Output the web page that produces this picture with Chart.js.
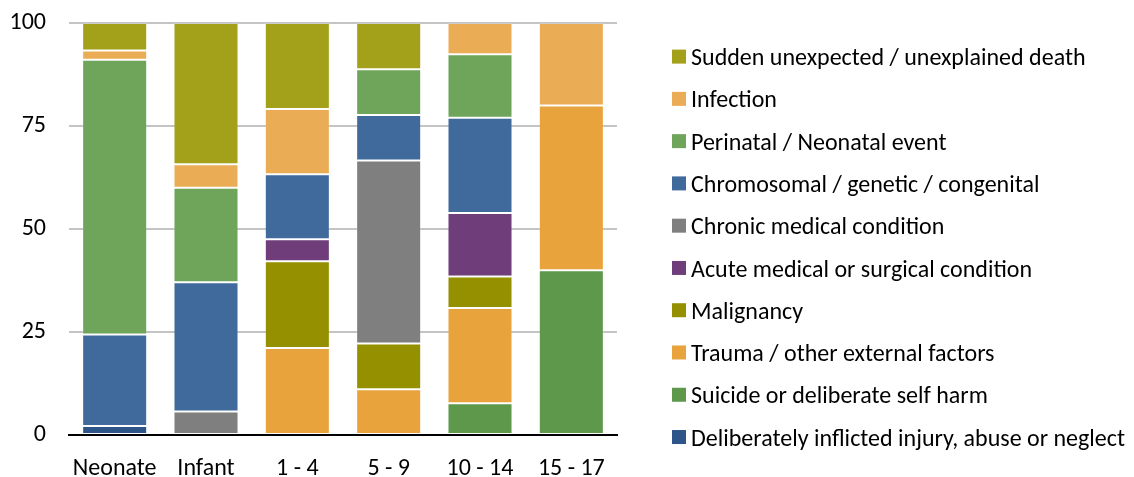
<!DOCTYPE html>
<html><head><meta charset="utf-8">
<script src="https://cdn.jsdelivr.net/npm/chart.js@4"></script>
<style>html,body{margin:0;padding:0;background:#fff;overflow:hidden}#wrap{width:1134px;height:477px;position:relative}</style>
</head><body><div id="wrap"><canvas id="c" width="1134" height="477"></canvas></div>
<script>
const categories = ['Neonate', 'Infant', '1 - 4', '5 - 9', '10 - 14', '15 - 17'];
const yTicks = [0, 25, 50, 75, 100];

// percentages, stacked bottom to top
const deliberate   = [2.2, 0, 0, 0, 0, 0];
const suicide      = [0, 0, 0, 0, 7.7, 40];
const trauma       = [0, 0, 21.1, 11.1, 23.1, 40];
const malignancy   = [0, 0, 21.1, 11.1, 7.7, 0];
const acute        = [0, 0, 5.3, 0, 15.4, 0];
const chronic      = [0, 5.7, 0, 44.4, 0, 0];
const chromosomal  = [22.2, 31.4, 15.8, 11.1, 23.1, 0];
const perinatal    = [66.7, 22.9, 0, 11.1, 15.4, 0];
const infection    = [2.2, 5.7, 15.8, 0, 7.6, 20];
const sudden       = [6.7, 34.3, 20.9, 11.2, 0, 0];

const seriesLabels = [
  'Deliberately inflicted injury, abuse or neglect',
  'Suicide or deliberate self harm',
  'Trauma / other external factors',
  'Malignancy',
  'Acute medical or surgical condition',
  'Chronic medical condition',
  'Chromosomal / genetic / congenital',
  'Perinatal / Neonatal event',
  'Infection',
  'Sudden unexpected / unexplained death'
];
const seriesData = [deliberate, suicide, trauma, malignancy, acute, chronic, chromosomal, perinatal, infection, sudden];
const seriesColors = ['#2E5589', '#5E984A', '#E8A33D', '#949000', '#6F3D7A', '#7F7F7F', '#416A9C', '#6FA55B', '#EBAC56', '#A3A019'];

const FAMILY = 'Carlito, Lato, "Liberation Sans", sans-serif';
const mctx = document.createElement('canvas').getContext('2d');
mctx.font = '24px ' + FAMILY;
const wLong = mctx.measureText(seriesLabels[0]).width;
const FS = Math.min(24, 24 * 442 / wLong);

const legendPlugin = {
  id: 'sideLegend',
  afterDraw(chart) {
    const ctx = chart.ctx;
    const ds = chart.data.datasets;
    const n = ds.length;
    ctx.save();
    ctx.font = FS + 'px ' + FAMILY;
    ctx.textAlign = 'left';
    ctx.textBaseline = 'alphabetic';
    for (let i = 0; i < n; i++) {
      const d = ds[n - 1 - i];
      const cy = 56.6 + 42.27 * i;
      ctx.fillStyle = d.backgroundColor;
      ctx.fillRect(672, cy - 7, 14, 14);
      ctx.fillStyle = '#000';
      ctx.fillText(d.label, 691, cy + 0.358 * FS);
    }
    ctx.restore();
  }
};

new Chart(document.getElementById('c'), {
  type: 'bar',
  data: {
    labels: categories,
    datasets: seriesLabels.map((l, i) => ({
      label: l,
      data: seriesData[i],
      backgroundColor: seriesColors[i],
      borderColor: 'rgba(255,255,255,0.16)',
      borderWidth: 1,
      borderSkipped: false,
      categoryPercentage: 0.712,
      barPercentage: 1
    }))
  },
  options: {
    responsive: false,
    animation: false,
    devicePixelRatio: 1,
    layout: { padding: { left: 0, top: 23, right: 517, bottom: 0 } },
    plugins: { legend: { display: false }, tooltip: { enabled: false } },
    scales: {
      x: {
        stacked: true,
        grid: { display: false, drawTicks: false },
        border: { display: true, color: '#000', width: 2 },
        ticks: { color: '#000', font: { family: FAMILY, size: FS }, padding: 20, maxRotation: 0 },
        afterFit: s => { s.height = 42; }
      },
      y: {
        stacked: true,
        min: 0, max: 100,
        afterBuildTicks: s => { s.ticks = yTicks.map(v => ({ value: v })); },
        grid: { color: c => c.tick && c.tick.value === 0 ? 'rgba(0,0,0,0)' : '#C4C4C4', lineWidth: 2, drawTicks: false },
        border: { display: false },
        ticks: { color: '#000', font: { family: FAMILY, size: FS }, padding: 23 },
        afterFit: s => { s.width = 69; s.paddingTop = 0; s.paddingBottom = 0; }
      }
    }
  },
  plugins: [legendPlugin]
});
</script></body></html>
